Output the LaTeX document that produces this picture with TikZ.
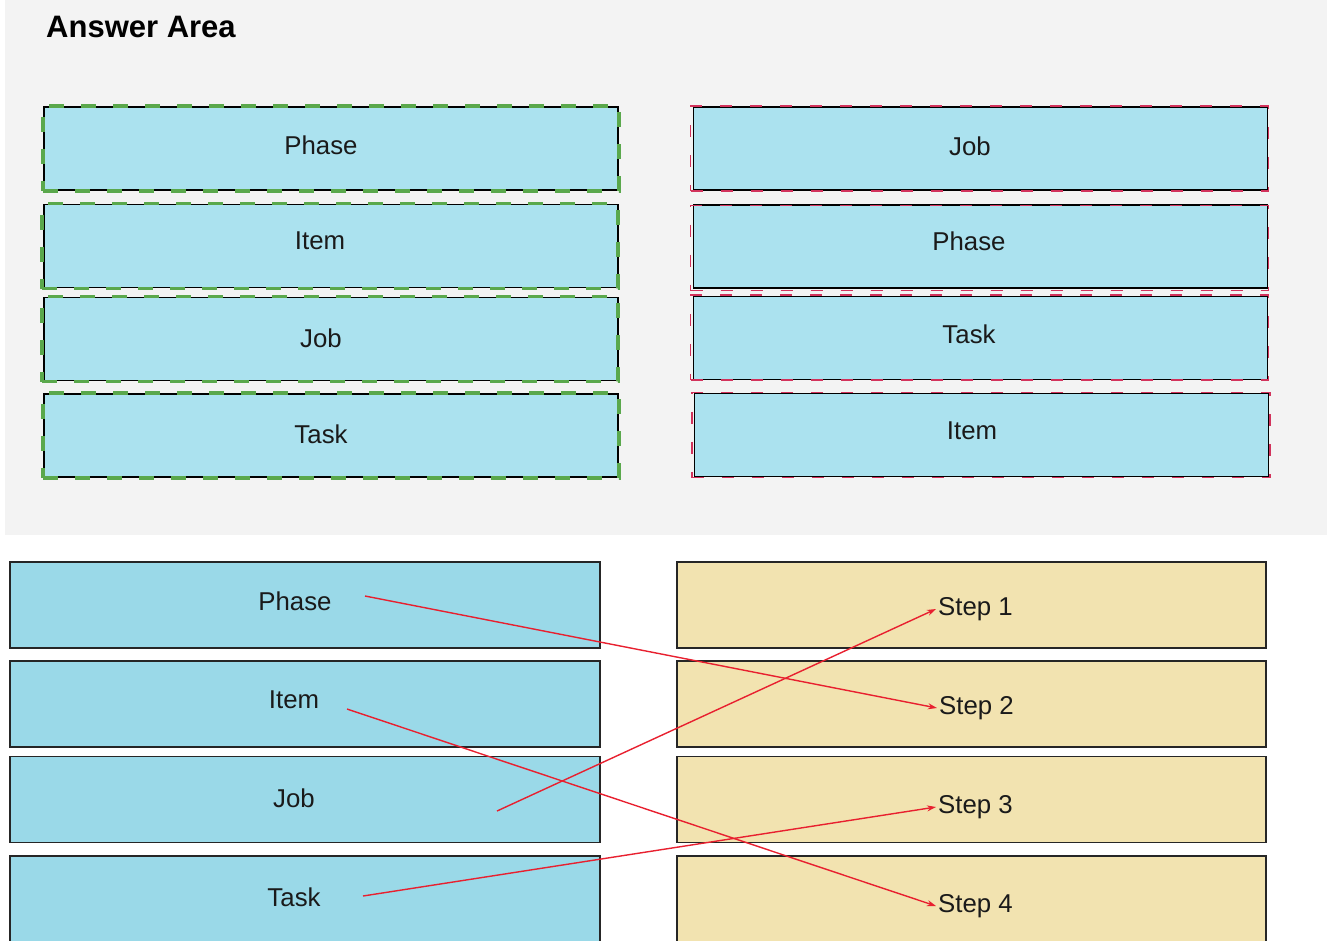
\documentclass[tikz,border=0pt]{standalone}
\usepackage{fontspec}
\setmainfont{Liberation Sans}
\usetikzlibrary{arrows.meta}
\definecolor{areabg}{HTML}{F3F3F3}
\definecolor{topfill}{HTML}{ABE2EF}
\definecolor{leftfill}{HTML}{9AD9E8}
\definecolor{rightfill}{HTML}{F2E3B0}
\definecolor{dashgreen}{HTML}{5AA84C}
\definecolor{dashred}{HTML}{D2335C}
\definecolor{linkred}{HTML}{E8202F}
\definecolor{txt}{HTML}{1A1A1A}
\tikzset{
  x=1pt, y=-1pt,
  topbox/.style={draw=black, line width=1.3pt, fill=topfill, minimum width=574pt, minimum height=83pt, inner sep=0pt},
  greenmark/.style={draw=dashgreen, line width=3.2pt, dash pattern=on 15pt off 17pt, minimum width=576pt, minimum height=85pt, inner sep=0pt},
  redmark/.style={draw=dashred, line width=1.8pt, dash pattern=on 12pt off 18pt, minimum width=578pt, minimum height=85pt, inner sep=0pt},
  lbox/.style={draw=black!85, line width=1.5pt, fill=leftfill, minimum width=590pt, minimum height=86pt, inner sep=0pt},
  rbox/.style={draw=black!85, line width=1.5pt, fill=rightfill, minimum width=589pt, minimum height=86pt, inner sep=0pt},
  lbl/.style={text=txt, font=\fontsize{25.8}{31}\selectfont, inner sep=2pt},
  link/.style={draw=linkred, line width=1.4pt, -{Stealth[length=9pt,width=6pt]}}
}
\begin{document}
\begin{tikzpicture}
\useasboundingbox (0,0) rectangle (1327,940);
\fill[areabg] (5,0) rectangle (1327,535);
\node[anchor=west, text=black, font=\bfseries\fontsize{31}{37}\selectfont, inner sep=0pt] (title) at (46,27) {Answer Area};

% answer area, left column
\node[topbox] (tl1) at (331,148.5) {};
\node[topbox] (tl2) at (331,246) {};
\node[topbox] (tl3) at (331,339) {};
\node[topbox] (tl4) at (331,435.5) {};
\node[greenmark] (gl1) at (331,148.5) {};
\node[greenmark] (gl2) at (330,246) {};
\node[greenmark] (gl3) at (330,339) {};
\node[greenmark] (gl4) at (331,435.5) {};
\node[lbl] (tlt1) at (321,145) {Phase};
\node[lbl] (tlt2) at (320,241) {Item};
\node[lbl] (tlt3) at (321,338) {Job};
\node[lbl] (tlt4) at (321,434) {Task};

% answer area, right column
\node[topbox] (tr1) at (980.5,148.5) {};
\node[topbox] (tr2) at (980.5,246.5) {};
\node[topbox] (tr3) at (980.5,338) {};
\node[topbox] (tr4) at (981.5,435) {};
\node[redmark] (rr1) at (979.5,148.5) {};
\node[redmark] (rr2) at (979.5,248) {};
\node[redmark] (rr3) at (979.5,337.5) {};
\node[redmark] (rr4) at (981,435) {};
\node[lbl] (trt1) at (970,146) {Job};
\node[lbl] (trt2) at (969,241) {Phase};
\node[lbl] (trt3) at (969,334) {Task};
\node[lbl] (trt4) at (972,431) {Item};

% bottom, left column
\node[lbox] (bl1) at (305,605) {};
\node[lbox] (bl2) at (305,704) {};
\node[lbox] (bl3) at (305,799.5) {};
\node[lbox] (bl4) at (305,899) {};
\node[lbl] (blt1) at (295,601) {Phase};
\node[lbl] (blt2) at (294,700) {Item};
\node[lbl] (blt3) at (294,798) {Job};
\node[lbl] (blt4) at (294,897) {Task};

% bottom, right column
\node[rbox] (br1) at (971.5,605) {};
\node[rbox] (br2) at (971.5,704) {};
\node[rbox] (br3) at (971.5,799.5) {};
\node[rbox] (br4) at (971.5,899) {};
\node[lbl] (s1) at (975.5,609) {Step 1};
\node[lbl] (s2) at (976.5,708) {Step 2};
\node[lbl] (s3) at (975.5,807) {Step 3};
\node[lbl] (s4) at (975.5,906) {Step 4};

% connectors
\coordinate (cPhase) at (365,596);
\coordinate (cItem) at (347,709);
\coordinate (cJob) at (497,811);
\coordinate (cTask) at (363,896);
\draw[link] (cPhase) -- (s2.west);
\draw[link] (cItem) -- (s4.west);
\draw[link] (cJob) -- (s1.west);
\draw[link] (cTask) -- (s3.west);
\end{tikzpicture}
\end{document}
